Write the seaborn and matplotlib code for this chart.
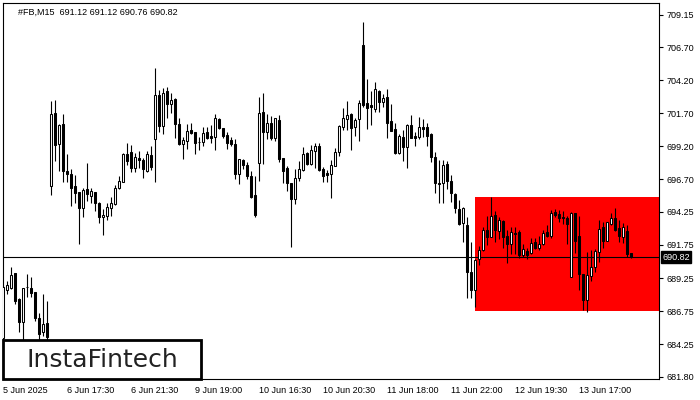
import numpy as np
import pandas as pd
import matplotlib
matplotlib.use("Agg")
import matplotlib.pyplot as plt
from matplotlib.patches import Rectangle
import seaborn as sns

# OHLC of the 15-minute bars
opens = [684.70, 688.36, 688.48, 689.61, 687.68, 685.96, 688.61, 688.48, 688.18, 686.22,
         685.16, 685.84, 696.24, 701.70, 699.36, 700.90, 697.35, 697.12, 696.21, 695.73,
         694.53, 695.99, 695.48, 695.73, 694.90, 693.84, 693.97, 694.53, 694.83, 696.04,
         696.54, 698.60, 698.76, 697.60, 698.30, 698.18, 697.35, 698.55, 699.74, 703.09,
         700.77, 703.39, 702.38, 702.78, 700.90, 699.36, 699.64, 700.44, 700.27, 699.56,
         699.56, 700.27, 699.99, 699.94, 701.27, 700.57, 700.07, 699.69, 699.36, 697.12,
         698.18, 697.80, 696.97, 695.53, 697.92, 701.78, 700.27, 700.95, 699.81, 701.20,
         698.30, 697.55, 696.41, 695.21, 696.79, 697.42, 698.68, 697.87, 698.88, 699.23,
         697.50, 697.20, 697.09, 697.75, 698.81, 700.69, 701.25, 701.65, 700.69, 701.25,
         706.86, 702.46, 702.33, 702.00, 703.39, 702.58, 702.91, 701.12, 700.49, 698.68,
         699.94, 699.18, 700.82, 699.99, 699.89, 700.64, 700.64, 700.14, 698.38, 696.46,
         696.41, 697.87, 696.59, 695.61, 694.48, 693.39, 693.27, 689.74, 688.36, 690.67,
         691.38, 692.89, 692.38, 694.02, 692.84, 693.57, 692.46, 691.83, 692.66, 692.71,
         691.00, 691.33, 691.13, 691.96, 691.50, 691.81, 692.71, 692.46, 694.22, 694.07,
         693.89, 693.77, 689.36, 694.15, 692.43, 689.54, 687.60, 689.44, 690.07, 691.25,
         693.14, 692.08, 693.32, 693.77, 693.01, 692.38, 692.81, 691.12]
highs = [688.73, 689.04, 690.07, 689.66, 687.73, 688.53, 689.54, 689.31, 688.23, 686.64,
         688.03, 687.48, 702.63, 702.71, 700.87, 701.65, 698.63, 697.50, 697.04, 695.78,
         696.09, 697.97, 696.09, 695.78, 695.03, 694.45, 694.90, 695.41, 696.29, 696.97,
         698.73, 699.49, 699.31, 698.73, 698.86, 698.35, 698.88, 699.23, 705.15, 703.46,
         703.59, 703.72, 703.21, 702.83, 701.37, 699.94, 700.90, 700.95, 700.32, 699.94,
         700.64, 700.69, 700.82, 701.65, 701.32, 700.62, 700.32, 699.89, 699.74, 698.28,
         698.23, 698.05, 697.35, 696.97, 702.96, 703.21, 701.65, 701.50, 701.37, 701.58,
         698.35, 697.72, 696.46, 697.50, 698.10, 699.13, 698.81, 699.31, 699.49, 699.49,
         697.67, 697.42, 698.18, 699.06, 700.82, 702.08, 702.63, 701.70, 701.32, 702.71,
         708.63, 704.30, 703.39, 704.09, 703.46, 703.16, 703.54, 702.41, 701.00, 700.14,
         700.44, 700.90, 701.58, 700.32, 701.40, 701.27, 701.00, 700.19, 698.81, 698.18,
         698.18, 698.10, 697.04, 695.66, 695.16, 694.65, 693.89, 691.96, 690.67, 691.68,
         693.14, 693.95, 695.41, 694.35, 693.89, 693.62, 692.89, 693.09, 693.14, 692.89,
         691.81, 691.50, 692.26, 692.26, 692.46, 692.89, 693.27, 694.40, 694.45, 694.40,
         694.32, 693.95, 694.27, 694.20, 693.95, 689.59, 691.20, 691.38, 691.43, 693.64,
         693.52, 693.52, 694.15, 694.53, 693.64, 693.39, 693.27, 691.12]
lows = [684.33, 688.03, 688.43, 687.27, 685.21, 684.45, 687.85, 687.85, 686.01, 684.58,
        684.91, 684.58, 695.53, 698.13, 697.37, 696.54, 696.54, 694.73, 694.90, 691.83,
        693.89, 695.11, 694.95, 694.32, 693.44, 692.51, 693.64, 693.95, 694.78, 695.99,
        696.49, 697.80, 697.25, 697.25, 697.55, 696.84, 697.30, 697.42, 696.49, 700.27,
        700.12, 701.32, 701.75, 699.86, 699.31, 698.23, 698.98, 700.14, 698.60, 698.93,
        699.23, 699.74, 699.49, 698.93, 700.49, 699.86, 699.01, 699.26, 696.72, 696.36,
        697.50, 696.72, 695.33, 693.89, 696.61, 697.87, 699.74, 699.69, 699.61, 698.05,
        696.46, 695.83, 691.63, 694.85, 696.61, 697.37, 697.80, 697.80, 697.55, 697.37,
        696.54, 696.54, 695.33, 697.72, 698.50, 700.44, 700.44, 698.93, 700.02, 699.61,
        702.21, 700.52, 700.82, 701.83, 701.83, 702.21, 699.86, 700.37, 698.63, 698.66,
        698.10, 697.60, 699.81, 699.26, 699.76, 699.94, 699.26, 698.05, 695.71, 694.90,
        694.95, 695.99, 695.03, 694.20, 693.27, 692.01, 687.73, 687.78, 687.10, 690.20,
        691.30, 691.76, 692.33, 692.01, 692.18, 691.50, 690.37, 691.08, 691.08, 690.80,
        690.82, 690.70, 691.08, 691.43, 691.38, 691.76, 692.38, 692.26, 693.84, 693.47,
        693.32, 691.83, 689.31, 691.13, 688.36, 686.85, 686.72, 689.06, 689.74, 690.50,
        691.50, 692.06, 693.27, 692.84, 691.96, 691.93, 690.87, 690.76]
closes = [688.61, 688.73, 689.49, 687.53, 685.96, 688.48, 688.56, 688.15, 686.27, 685.01,
          685.76, 684.76, 701.65, 699.31, 700.82, 697.37, 697.14, 696.09, 695.71, 694.53,
          695.91, 695.58, 695.83, 694.90, 693.89, 694.02, 694.60, 694.90, 696.04, 696.59,
          698.60, 698.13, 697.60, 698.38, 698.18, 697.47, 698.60, 697.67, 703.09, 700.77,
          703.21, 702.38, 702.71, 700.87, 699.36, 699.69, 700.37, 700.19, 699.49, 699.54,
          700.19, 699.81, 699.86, 701.32, 700.57, 700.02, 699.49, 699.39, 697.12, 698.23,
          697.80, 696.97, 695.41, 694.02, 701.70, 700.32, 700.95, 699.81, 701.32, 698.25,
          697.37, 696.46, 695.21, 696.79, 697.47, 698.60, 697.87, 698.93, 699.23, 697.42,
          696.99, 697.07, 697.80, 698.81, 700.74, 701.32, 701.58, 700.62, 701.20, 702.46,
          702.33, 702.13, 702.21, 703.54, 702.58, 702.83, 701.00, 700.39, 698.73, 699.99,
          699.18, 700.82, 699.86, 699.86, 700.64, 700.52, 700.02, 698.38, 696.41, 696.34,
          697.80, 696.61, 695.66, 694.53, 693.32, 694.58, 689.74, 688.36, 690.62, 691.38,
          692.89, 692.38, 693.95, 692.89, 693.64, 692.38, 691.83, 692.71, 692.61, 691.00,
          691.43, 691.00, 691.93, 691.55, 691.81, 692.69, 692.46, 694.20, 694.02, 693.82,
          693.77, 693.34, 694.20, 692.08, 689.56, 687.60, 689.49, 690.07, 691.30, 692.94,
          692.06, 693.47, 693.77, 692.89, 692.46, 693.09, 691.08, 690.82]

x_tick_bars = [0, 16, 32, 48, 64, 80, 96, 112, 128, 144]
x_tick_labels = ["5 Jun 2025", "6 Jun 17:30", "6 Jun 21:30", "9 Jun 19:00", "10 Jun 16:30",
                 "10 Jun 20:30", "11 Jun 18:00", "11 Jun 22:00", "12 Jun 19:30", "13 Jun 17:00"]
y_ticks = [709.15, 706.70, 704.20, 701.70, 699.20, 696.70, 694.25, 691.75,
           689.25, 686.75, 684.25, 681.80]

last_price = 690.82
# rectangle pattern: starts at bar 118 and runs to the right edge
rect_start_bar = 118
rect_top = 695.38
rect_bottom = 686.79

df = pd.DataFrame({"open": opens, "high": highs, "low": lows, "close": closes})
df["bar"] = np.arange(len(df))
df["up"] = df["close"] >= df["open"]

sns.set_theme(style="white")
plt.rcParams["font.family"] = ["Liberation Sans", "DejaVu Sans"]

fig = plt.figure(figsize=(7, 4), dpi=100)
ax = fig.add_axes([0.00386, 0.05175, 0.93828, 0.9415])

ax.set_xlim(-0.15, 164.05)
ax.set_ylim(681.60, 710.06)

ax.add_patch(Rectangle((rect_start_bar - 0.05, rect_bottom), 200, rect_top - rect_bottom,
                       facecolor="#ff0000", edgecolor="none", zorder=1))
ax.axhline(last_price, color="black", lw=0.8, zorder=1.5)

ax.vlines(df["bar"], df["low"], df["high"], color="black", lw=0.8, zorder=2)
body_bottom = df[["open", "close"]].min(axis=1)
body_height = (df["close"] - df["open"]).abs().clip(lower=0.02)
colors = np.where(df["up"], "white", "black")
ax.bar(df["bar"], body_height, bottom=body_bottom, width=0.55, color=colors,
       edgecolor="black", linewidth=0.75, zorder=3)

for s in ax.spines.values():
    s.set_color("black")
    s.set_linewidth(0.8)

ax.yaxis.tick_right()
ax.set_yticks(y_ticks)
ax.set_yticklabels([f"{v:.2f}" for v in y_ticks])
ax.set_xticks(x_tick_bars)
ax.set_xticklabels(x_tick_labels, ha="left")
ax.tick_params(axis="both", direction="out", length=3, width=0.8, color="black",
               labelsize=6.5, labelcolor="black", pad=2)
ax.tick_params(axis="x", pad=1.5)
ax.grid(False)

ax.text(1.004, last_price, f"{last_price:.2f}", transform=ax.get_yaxis_transform(),
        ha="left", va="center", color="white", fontsize=6.5,
        bbox=dict(boxstyle="square,pad=0.15", facecolor="black", edgecolor="black"))

fig.text(18 / 700, 1 - 12 / 400, "#FB,M15  691.12 691.12 690.76 690.82",
         fontsize=6.5, color="black", ha="left", va="center")

logo = Rectangle((0.0045, 0.0535), 0.283, 0.0965, transform=fig.transFigure,
                 facecolor="white", edgecolor="black", lw=2, zorder=5)
fig.add_artist(logo)
fig.text(0.146, 0.101, "InstaFintech", fontsize=18, color="#222222",
         family="DejaVu Sans", ha="center", va="center", zorder=6)

fig.savefig("out.png", dpi=100)
plt.close(fig)
